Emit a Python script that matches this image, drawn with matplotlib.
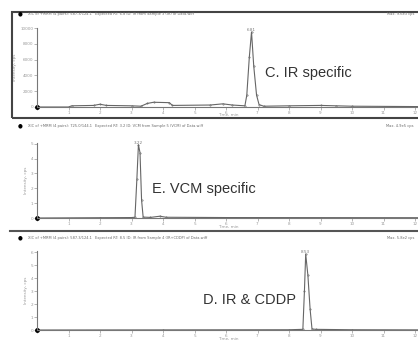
import numpy as np
import matplotlib.pyplot as plt
from matplotlib.patches import Rectangle

# figure size in pixels (drawn at 100 dpi)
W, H = 418, 341

# ---- data: retention time (min) vs. intensity ----
# C. IR specific (intensity in cps)
c_time = [0.0, 1.0, 1.1, 1.8, 2.0, 2.2, 3.0, 3.3, 3.5, 3.7, 4.2, 4.3, 5.5, 5.9,
          6.2, 6.6, 6.66, 6.74, 6.81, 6.88, 6.97, 7.05, 7.2, 8.0, 9.0, 9.5, 10.0, 12.2]
c_signal = [0, 0, 150, 200, 350, 200, 150, 100, 450, 600, 550, 200, 250, 400,
            250, 150, 1500, 6300, 9500, 5200, 1500, 300, 100, 150, 200, 150, 100, 50]
c_yticks = [0, 2000, 4000, 6000, 8000, 10000]

# E. VCM specific (intensity in 1e5 cps)
e_time = [0.0, 2.0, 3.0, 3.11, 3.17, 3.22, 3.27, 3.32, 3.37, 3.6, 3.9, 4.1, 6.0, 12.2]
e_signal = [0, 0.02, 0.03, 0.05, 2.6, 4.93, 4.4, 1.2, 0.06, 0.04, 0.12, 0.05, 0.03, 0.02]
e_yticks = [0, 1, 2, 3, 4, 5]

# D. IR & CDDP (intensity in 1e2 cps)
d_time = [0.0, 4.0, 8.0, 8.44, 8.49, 8.53, 8.6, 8.67, 8.73, 8.85, 10.0, 12.2]
d_signal = [0, 0.01, 0.02, 0.05, 3.0, 5.85, 4.2, 1.6, 0.08, 0.05, 0.02, 0.01]
d_yticks = [0, 1, 2, 3, 4, 5, 6]

xticks = list(range(0, 13))


def box(l, t, r, b):
    return [l / W, 1 - b / H, (r - l) / W, (b - t) / H]


fig = plt.figure(figsize=(W / 100, H / 100), dpi=100)
fig.patch.set_facecolor('white')

grey = '#6a6a6a'
panels = [
    # time, signal, yticks, ymax, top px, bottom px, label, label pos, header y, headers
    (c_time, c_signal, c_yticks, 10000, 28, 107, 'C. IR specific', (265, 73), 14,
     ('XIC of +MRM (4 pairs): 587.3/124.1',
      'Expected RT: 6.8 ID: IR from Sample 3 (IR) of Data.wiff', 'Max. 9.6e3 cps')),
    (e_time, e_signal, e_yticks, 5.05, 143, 218, 'E. VCM specific', (152, 189), 126,
     ('XIC of +MRM (4 pairs): 725.0/144.1',
      'Expected RT: 3.2 ID: VCM from Sample 5 (VCM) of Data.wiff', 'Max. 4.9e5 cps')),
    (d_time, d_signal, d_yticks, 6.08, 251, 330, 'D. IR & CDDP', (203, 300), 238,
     ('XIC of +MRM (4 pairs): 587.3/124.1',
      'Expected RT: 8.5 ID: IR from Sample 4 (IR+CDDP) of Data.wiff', 'Max. 5.8e2 cps')),
]

for t, s, yt, ymax, top, bot, label, lpos, hy, heads in panels:
    ax = fig.add_axes(box(37, top, 420, bot))
    ax.patch.set_alpha(0)
    ax.plot(t, s, color='#666666', lw=0.8, marker='o', ms=1.0, mfc='none', mew=0.4)
    ax.plot([0], [0], 'o', color='black', ms=2.5, clip_on=False)
    ax.set_xlim(0, (420 - 37) / 31.5)
    ax.set_ylim(0, ymax)
    for sp in ['top', 'right']:
        ax.spines[sp].set_visible(False)
    for sp in ['left', 'bottom']:
        ax.spines[sp].set_color('#777777')
        ax.spines[sp].set_linewidth(0.8)
    ax.set_xticks(xticks)
    ax.set_xticklabels([str(x) if x > 0 else '' for x in xticks])
    ax.set_yticks(yt)
    ax.set_yticklabels([str(y) for y in yt])
    ax.tick_params(length=2, width=0.5, labelsize=3, colors='#999999', pad=0.8)
    ax.set_xlabel('Time, min', fontsize=3, color='#999999')
    ax.xaxis.set_label_coords(0.5, -6.5 / (bot - top))
    ax.set_ylabel('Intensity, cps', fontsize=3, color='#999999', labelpad=2)

    # retention time label over the main peak
    i = int(np.argmax(s))
    ax.text(t[i], s[i], '%.2f' % t[i], fontsize=3, color='#777777',
            ha='center', va='bottom', clip_on=False)

    # panel label
    fig.text(lpos[0] / W, 1 - lpos[1] / H, label, fontsize=10.5, color='#333333',
             family='Liberation Sans', ha='left', va='center')

    # instrument header line
    fig.text(20 / W, 1 - hy / H, '\u25cf', fontsize=4, color='black', ha='center', va='center')
    fig.text(28 / W, 1 - hy / H, heads[0], fontsize=2.6, color=grey, va='center')
    fig.text(95 / W, 1 - hy / H, heads[1], fontsize=2.6, color=grey, va='center')
    fig.text(414 / W, 1 - hy / H, heads[2], fontsize=2.6, color=grey, va='center', ha='right')

# frame around the first chromatogram and separator before the last
fig.patches.append(Rectangle((12 / W, 1 - 118 / H), (420 - 12) / W, (118 - 12) / H,
                             transform=fig.transFigure, fill=False,
                             edgecolor='#444444', lw=1.5))
fig.lines.append(plt.Line2D([10 / W, 1], [1 - 231 / H, 1 - 231 / H],
                            transform=fig.transFigure, color='#555555', lw=1.5))

fig.savefig('out.png', dpi=100, facecolor='white')
